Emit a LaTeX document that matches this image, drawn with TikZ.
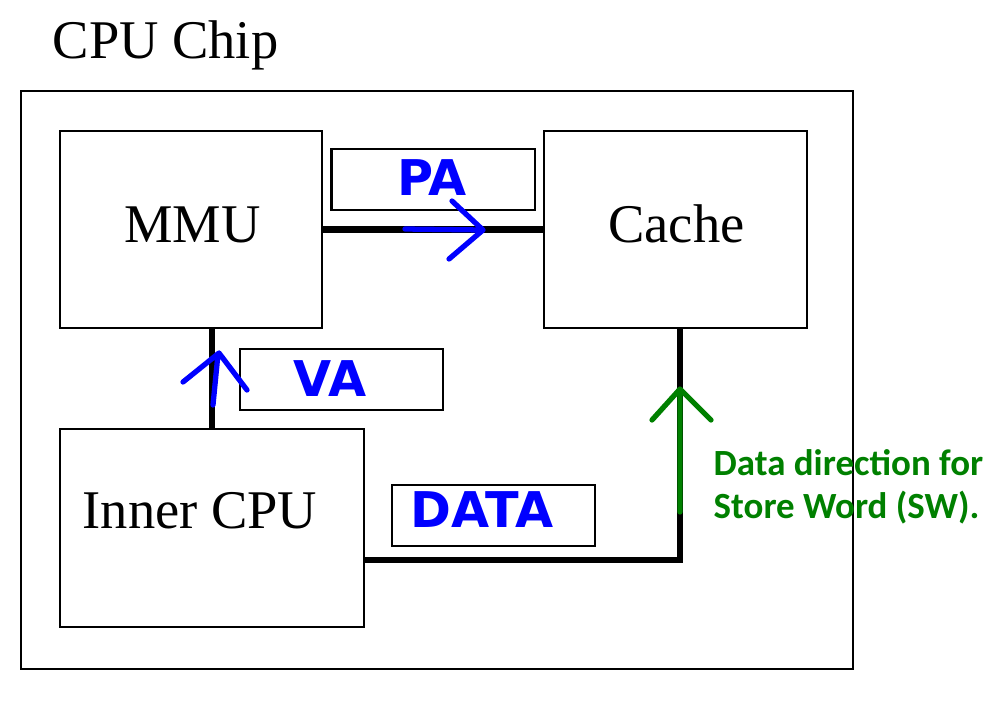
\documentclass[tikz,border=0pt]{standalone}
\usepackage{fontspec}
\setmainfont{Liberation Serif}
\newfontfamily\tagfont{DejaVu Sans}
\newfontfamily\notefont{Carlito}
\definecolor{penblue}{RGB}{0,0,255}
\definecolor{pengreen}{RGB}{0,128,0}
\tikzset{unit/.style = {draw, line width=0.6pt, minimum width=2.62cm, minimum height=1.97cm, inner sep=0pt},
         tag/.style = {draw, line width=0.6pt, minimum width=2.03cm, minimum height=0.61cm, inner sep=0pt},
         unitname/.style = {anchor=base, inner sep=0pt, font=\fontsize{15.5}{18}\selectfont},
         tagtext/.style = {inner sep=0pt, text=penblue, font=\tagfont\bfseries\fontsize{14}{16}\selectfont},
         note/.style = {anchor=base west, inner sep=0pt, text=pengreen, font=\notefont\bfseries\fontsize{10.5}{12}\selectfont},
         bus/.style = {line width=1.8pt},
         scribble/.style = {line width=1.5pt, line cap=round, line join=round}}

\begin{document}
\begin{tikzpicture}[x=0.01cm, y=-0.01cm]
\useasboundingbox (0,0) rectangle (1000,705);
\node [unitname, anchor=base west] (title) at (52,58) {CPU Chip};
\node [draw, line width=0.6pt, minimum width=8.32cm, minimum height=5.78cm, inner sep=0pt] (chip) at (437,380) {};
% units
\node [unit] (mmu) at (191,229.5) {};
\node [unit, minimum width=2.63cm] (cache) at (675.5,229.5) {};
\node [unit, minimum width=3.04cm, minimum height=1.98cm] (inner) at (212,528) {};
\node [unitname] (mmutext) at (192.5,242) {MMU};
\node [unitname] (cachetext) at (676.5,242) {Cache};
\node [unitname] (innertext) at (200,528) {Inner CPU};
% tags
\node [tag] (pa) at (433,179.5) {};
\node [tag] (va) at (341.5,379.5) {};
\node [tag] (data) at (493.5,515.5) {};
\node [tagtext] (patext) at (432,178) {PA};
\node [tagtext] (vatext) at (330,379) {VA};
\node [tagtext] (datatext) at (482,510) {DATA};
% buses
\coordinate (vax) at (212,0);
\coordinate (bend) at (680,560);
\draw [bus] (inner.north -| vax) -- (mmu.south -| vax);
\draw [bus] (mmu.east) -- (cache.west);
\draw [bus] (inner.east |- bend) -- (bend) -- (cache.south -| bend);
% pen marks
\draw [scribble, penblue] (405,229) -- (483,230) (452,201) -- (483,230) -- (449,259);
\draw [scribble, penblue] (213,405) -- (218,354) (183,382) -- (219,353) -- (247,390);
\draw [scribble, pengreen] (680,512) -- (680,390) (652,420) -- (680,389) -- (711,420);
\node [note] (notetop) at (713,475) {Data direction for};
\node [note] (notebottom) at (713,518) {Store Word (SW).};
\end{tikzpicture}
\end{document}
